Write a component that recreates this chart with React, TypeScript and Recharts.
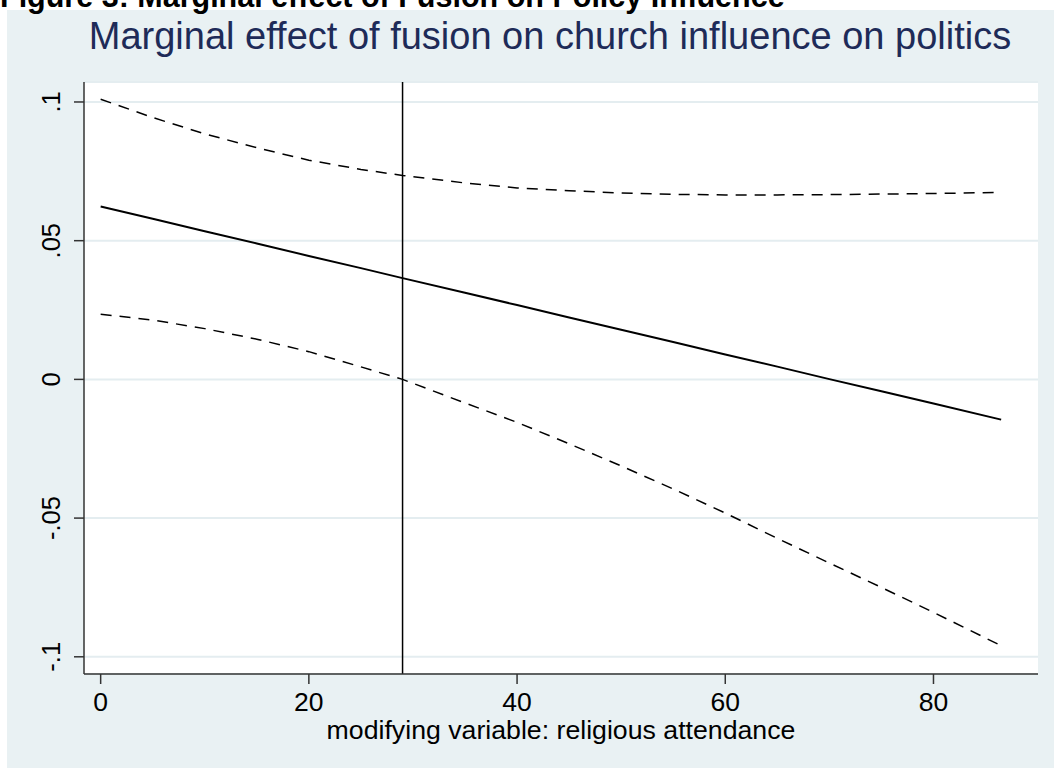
import { CartesianGrid, Line, LineChart, ReferenceLine, XAxis, YAxis } from 'recharts'

// values
const attendance = [0, 5, 10, 15, 20, 25, 29, 35, 40, 45, 50, 55, 60, 65, 70, 75, 80, 86.5]
const effect = [0.0623, 0.0579, 0.0534, 0.049, 0.0445, 0.0401, 0.0365, 0.0312, 0.0268, 0.0223, 0.0179, 0.0135, 0.009, 0.0046, 0.0001, -0.0043, -0.0087, -0.0145]
const upper = [0.101, 0.0944, 0.0885, 0.0835, 0.079, 0.0757, 0.0735, 0.0708, 0.069, 0.068, 0.0672, 0.0667, 0.0665, 0.0665, 0.0666, 0.0668, 0.067, 0.0674]
const lower = [0.0235, 0.0214, 0.0183, 0.0145, 0.01, 0.0045, 0.0, -0.0085, -0.0155, -0.0232, -0.0312, -0.0395, -0.0482, -0.0573, -0.0662, -0.075, -0.084, -0.096]
const xTicks = [0, 20, 40, 60, 80]
const yTicks = [-0.1, -0.05, 0, 0.05, 0.1]
const yTickLabels = ['-.1', '-.05', '0', '.05', '.1']
const cutoff = 29

const data = attendance.map((x, i) => ({ x, effect: effect[i], upper: upper[i], lower: lower[i] }))

const FONT = '"Liberation Sans", Arial, Helvetica, sans-serif'
const BG = '#E9F1F3'

function YTick(props: any) {
  const { y, payload } = props
  const i = yTicks.indexOf(payload.value)
  return (
    <text
      x={53}
      y={y}
      transform={`rotate(-90, 53, ${y})`}
      textAnchor="middle"
      fontSize={25.5}
      fontFamily={FONT}
      fill="#000"
    >
      {i >= 0 ? yTickLabels[i] : payload.value}
    </text>
  )
}

function XTick(props: any) {
  const { x, payload } = props
  return (
    <text x={x} y={701} textAnchor="middle" fontSize={26.5} fontFamily={FONT} fill="#000">
      {payload.value}
    </text>
  )
}

export default function App() {
  return (
    <div style={{ position: 'absolute', left: 0, top: 0, width: 1054, height: 770, background: '#fff', overflow: 'hidden' }}>
      <div style={{ position: 'absolute', left: 7, top: 10, width: 1047, height: 758, background: BG }}>
        <LineChart
          width={1047}
          height={758}
          data={data}
          margin={{ top: 72, right: 16, left: 0, bottom: 0 }}
        >
          <CartesianGrid vertical={false} fill="#fff" stroke="#E4EDF0" strokeWidth={2} />
          <XAxis
            dataKey="x"
            type="number"
            domain={[-1.6, 90.04]}
            ticks={xTicks}
            allowDataOverflow
            height={94}
            tickSize={10}
            tickLine={{ stroke: '#333', strokeWidth: 1.5 }}
            axisLine={{ stroke: '#333', strokeWidth: 1.5 }}
            tick={<XTick />}
          />
          <YAxis
            type="number"
            domain={[-0.1062, 0.1072]}
            ticks={yTicks}
            allowDataOverflow
            width={77}
            tickSize={10}
            tickLine={{ stroke: '#333', strokeWidth: 1.5 }}
            axisLine={{ stroke: '#333', strokeWidth: 1.5 }}
            tick={<YTick />}
          />
          <ReferenceLine x={cutoff} stroke="#000" strokeWidth={1.5} />
          <Line dataKey="upper" stroke="#000" strokeWidth={1.5} strokeDasharray="11 8" dot={false} isAnimationActive={false} />
          <Line dataKey="lower" stroke="#000" strokeWidth={1.5} strokeDasharray="11 8" dot={false} isAnimationActive={false} />
          <Line dataKey="effect" stroke="#000" strokeWidth={2} dot={false} isAnimationActive={false} />
        </LineChart>
        <svg width={1047} height={758} style={{ position: 'absolute', left: 0, top: 0, pointerEvents: 'none' }}>
          <text x={543} y={39} textAnchor="middle" fontSize={38} fontFamily={FONT} fill="#1E2B58">
            Marginal effect of fusion on church influence on politics
          </text>
          <text x={554} y={729} textAnchor="middle" fontSize={26.7} fontFamily={FONT} fill="#000">
            modifying variable: religious attendance
          </text>
        </svg>
      </div>
      <svg width={1054} height={20} style={{ position: 'absolute', left: 0, top: 0 }}>
        <text x={0} y={7} fontSize={30.5} fontWeight="bold" fontFamily={FONT} fill="#000">
          Figure 3: Marginal effect of Fusion on Policy Influence
        </text>
      </svg>
    </div>
  )
}
